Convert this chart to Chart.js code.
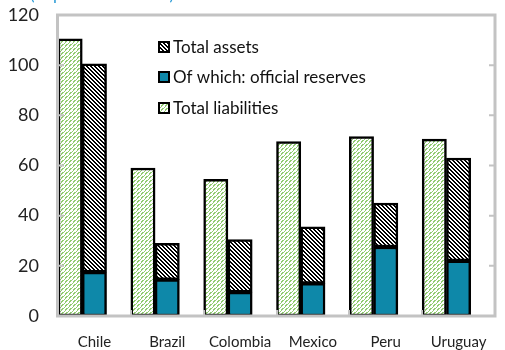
<!DOCTYPE html>
<html>
<head>
<meta charset="utf-8">
<script src="https://cdn.jsdelivr.net/npm/chart.js@4"></script>
<style>
  html, body { margin: 0; padding: 0; background: #fff; }
  #wrap { width: 505px; height: 350px; }
</style>
</head>
<body>
<div id="wrap"><canvas id="mycanvas" width="505" height="350"></canvas></div>
<script>
var countries = ['Chile', 'Brazil', 'Colombia', 'Mexico', 'Peru', 'Uruguay'];
var totalLiabilities = [110.5, 59, 54.5, 69.5, 71.5, 70.5];
var totalAssets = [100.5, 29, 30.5, 35.5, 45, 63];
var officialReserves = [17.5, 14.5, 9.5, 13, 27.5, 22];
var yTicks = [0, 20, 40, 60, 80, 100, 120];
var legendLabels = ['Total assets', 'Of which: official reserves', 'Total liabilities'];

var FONT = 'Lato, "Open Sans", sans-serif';
var GREY = '#c3c3c3';
var TEAL = '#0e88a9';

// tiled hatch patterns
function makePattern(size, bg, fg, cells) {
    var c = document.createElement('canvas');
    c.width = size; c.height = size;
    var g = c.getContext('2d');
    g.fillStyle = bg;
    g.fillRect(0, 0, size, size);
    g.fillStyle = fg;
    cells.forEach(function(p) { g.fillRect(p[0], p[1], 1, 1); });
    return document.getElementById('mycanvas').getContext('2d').createPattern(c, 'repeat');
}
var greenHatch = makePattern(4, '#ffffff', '#92cc72', [[3,0],[2,1],[1,2],[0,3],[2,0],[1,1]]);
var blackHatch = makePattern(4, '#ffffff', '#000000', [[0,0],[1,0],[1,1],[2,1],[2,2],[3,2],[3,3],[0,3]]);

// assets above the reserves part
var otherAssets = totalAssets.map(function(v, i) { return v - officialReserves[i]; });

var frame = {
    id: 'frame',
    afterDatasetsDraw: function(chart) {
        var ctx = chart.ctx, a = chart.chartArea;
        var y = chart.scales.y;
        ctx.save();
        ctx.strokeStyle = GREY;
        ctx.lineWidth = 3;
        ctx.strokeRect(a.left - 0.5, a.top, a.right - a.left + 0.5, a.bottom - a.top);
        ctx.lineWidth = 2;
        ctx.beginPath();
        yTicks.forEach(function(t) {
            if (t === 0 || t === 120) return;
            var py = y.getPixelForValue(t);
            ctx.moveTo(a.left, py); ctx.lineTo(a.left + 6, py);
            ctx.moveTo(a.right, py); ctx.lineTo(a.right - 6, py);
        });
        var step = (a.right - a.left) / countries.length;
        for (var i = 1; i < countries.length; i++) {
            var px = Math.round(a.left + step * i);
            ctx.moveTo(px, a.bottom); ctx.lineTo(px, a.bottom - 6);
        }
        ctx.stroke();

        // legend inside the plot
        var fills = [blackHatch, TEAL, greenHatch];
        var rows = [47, 77, 108];
        ctx.font = '17px ' + FONT;
        ctx.textBaseline = 'middle';
        for (var k = 0; k < 3; k++) {
            ctx.fillStyle = fills[k];
            ctx.fillRect(159, rows[k] - 5, 10, 10);
            ctx.strokeStyle = '#000';
            ctx.lineWidth = 2;
            ctx.strokeRect(159, rows[k] - 5, 10, 10);
            ctx.fillStyle = '#111';
            ctx.fillText(legendLabels[k], 173, rows[k] + 1);
        }

        // subtitle cut off at the top
        ctx.fillStyle = '#2a9bd6';
        ctx.font = '17px ' + FONT;
        ctx.textBaseline = 'alphabetic';
        ctx.fillText('(In percent of GDP)', 30, -0.5);
        ctx.restore();
    }
};

var chartdata = {
    labels: countries,
    datasets: [
        {
            label: 'Total liabilities',
            data: totalLiabilities,
            backgroundColor: greenHatch,
            borderColor: '#000',
            borderWidth: 2.5,
            borderSkipped: false,
            stack: 'liab'
        },
        {
            label: 'Of which: official reserves',
            data: officialReserves,
            backgroundColor: TEAL,
            borderColor: '#000',
            borderWidth: 2.5,
            borderSkipped: false,
            stack: 'assets'
        },
        {
            label: 'Total assets',
            data: otherAssets,
            backgroundColor: blackHatch,
            borderColor: '#000',
            borderWidth: 2.5,
            borderSkipped: false,
            stack: 'assets'
        },
        {
            label: 'spacer',
            data: countries.map(function() { return null; }),
            stack: 'spacer'
        }
    ]
};

const config = {
    type: 'bar',
    data: chartdata,
    options: {
        responsive: false,
        animation: false,
        layout: { padding: { top: 15, right: 10, left: 0, bottom: 0 } },
        datasets: { bar: { categoryPercentage: 1, barPercentage: 1 } },
        plugins: { legend: { display: false }, tooltip: { enabled: false } },
        scales: {
            x: {
                stacked: true,
                grid: { display: false, drawTicks: false },
                border: { display: false },
                ticks: { color: '#222', font: { family: FONT, size: 15 }, padding: 17 },
                afterFit: function(s) { s.height = 34; s.paddingLeft = 0; s.paddingRight = 0; }
            },
            y: {
                stacked: true,
                min: 0,
                max: 120,
                grid: { display: false, drawTicks: false },
                border: { display: false },
                afterBuildTicks: function(s) { s.ticks = yTicks.map(function(v) { return { value: v }; }); },
                ticks: { color: '#222', font: { family: FONT, size: 18 }, padding: 19 },
                afterFit: function(s) { s.width = 58; s.paddingTop = 0; s.paddingBottom = 0; }
            }
        }
    },
    plugins: [frame]
};

const myChart = new Chart(document.getElementById('mycanvas'), config);
</script>
</body>
</html>
